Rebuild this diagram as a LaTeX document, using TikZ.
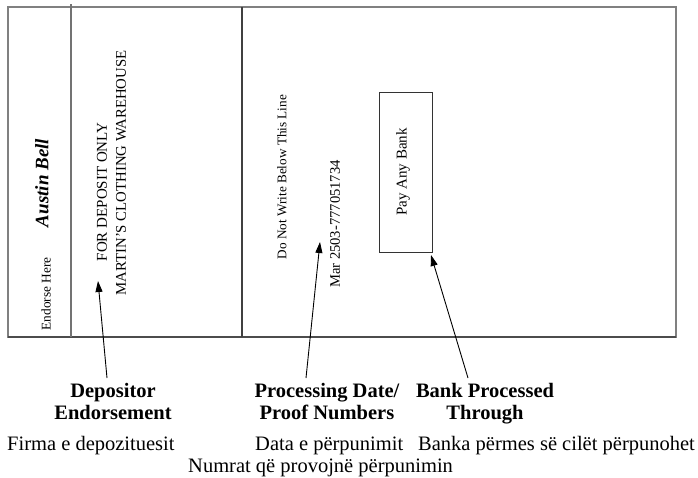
\documentclass[tikz,border=0pt]{standalone}
\usepackage{fontspec}
\setmainfont{Liberation Serif}
\usetikzlibrary{arrows.meta}
\begin{document}
\begin{tikzpicture}[x=1pt,y=-1pt,
  frame/.style={draw=black!50,line width=1.4pt},
  divider/.style={draw=black!55,line width=1.1pt},
  vtext/.style={rotate=90,inner sep=0pt,anchor=center},
  caption/.style={inner sep=0pt,anchor=base,align=center,font=\fontsize{20.5}{22}\selectfont\bfseries},
  gloss/.style={inner sep=0pt,anchor=base west,font=\fontsize{20.5}{22}\selectfont},
  pointer/.style={draw=black,line width=0.9pt,-{Triangle[length=11pt,width=7pt]}}]
\useasboundingbox (0,0) rectangle (698,477);
\fill[white] (0,0) rectangle (698,477);

% back of the cheque
\draw[frame] (8,7) rectangle (676,337);
\draw[black!70,line width=1.4pt] (8,337) -- (676,337);
\draw[divider] (71,4) -- (71,337);
\draw[divider,draw=black!75] (242,7) -- (242,337);

% endorsement area
\node[vtext,font=\fontsize{13.3}{15}\selectfont] (endorse) at (46,294) {Endorse Here};
\node[vtext,font=\fontsize{19}{21}\selectfont\bfseries\itshape] (sign) at (42,183) {Austin Bell};
\node[vtext,font=\fontsize{15}{17}\selectfont] (deposit) at (102,192) {FOR DEPOSIT ONLY};
\node[vtext,font=\fontsize{14.8}{17}\selectfont] (payee) at (121,173) {MARTIN'S CLOTHING WAREHOUSE};

% processing area
\node[vtext,font=\fontsize{13.2}{15}\selectfont] (nowrite) at (282,177) {Do Not Write Below This Line};
\node[vtext,font=\fontsize{14.6}{17}\selectfont] (proof) at (335,224) {Mar 2503-777051734};
\draw[black!80,line width=1pt] (379,92) rectangle (432,252);
\node[vtext,font=\fontsize{15}{17}\selectfont] (paybank) at (403,172) {Pay Any Bank};

% captions (anchored on the baseline of their second line)
\node[caption] (capdep) at (113,419) {Depositor\\Endorsement};
\node[caption] (capproc) at (327,419) {Processing Date/\\Proof Numbers};
\node[caption] (capbank) at (485,419) {Bank Processed\\Through};

\node[gloss] (gdep) at (7,450) {Firma e depozituesit};
\node[gloss] (gproc) at (255,450) {Data e përpunimit};
\node[gloss] (gbank) at (418,450) {Banka përmes së cilët përpunohet};
\node[gloss] (gnum) at (188,472) {Numrat që provojnë përpunimin};

% pointers
\coordinate (tdep) at (107,378);
\coordinate (hdep) at (98,281);
\coordinate (tproc) at (306,378);
\coordinate (hproc) at (320,242);
\coordinate (tbank) at (468,378);
\coordinate (hbank) at (431,255);
\draw[pointer] (tdep) -- (hdep);
\draw[pointer] (tproc) -- (hproc);
\draw[pointer] (tbank) -- (hbank);
\end{tikzpicture}
\end{document}
